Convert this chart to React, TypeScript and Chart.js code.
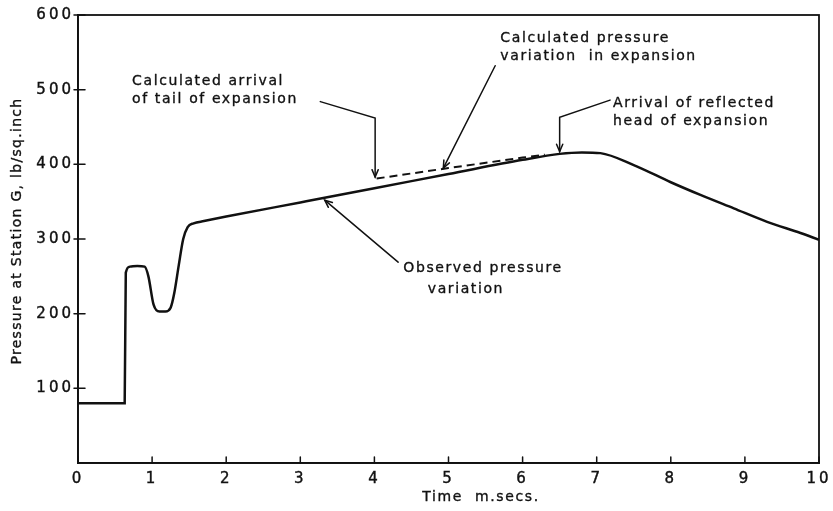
import React, { useEffect, useRef } from "react";
import { Chart, registerables } from "chart.js";
Chart.register(...registerables);

// Observed pressure variation (time in m.secs, pressure lb/sq.inch)
const observedTime = [0, 0.63, 0.645, 0.7, 0.8, 0.9, 0.95, 1.02, 1.1, 1.18, 1.25, 1.3, 1.36, 1.42, 1.48, 1.56, 1.7, 2, 3, 4, 5, 6, 6.5, 6.8, 7.05, 7.5, 8, 8.4, 8.85, 9.3, 9.75, 10];
const observedPressure = [80, 80, 255, 263, 264, 263, 250, 212, 203, 203, 208, 228, 265, 300, 316, 321, 324, 330, 349, 368, 387, 406, 414, 416, 415, 399, 376, 359, 341, 323, 308, 299];

// Calculated pressure variation in expansion
const calculatedTime = [4.03, 5, 6, 6.3];
const calculatedPressure = [381, 395, 409, 413];

const xTickValues = [0, 1, 2, 3, 4, 5, 6, 7, 8, 9, 10];
const yTickValues = [100, 200, 300, 400, 500, 600];

const xTitle = "Time  m.secs.";
const yTitle = "Pressure at Station G, lb/sq.inch";

// Annotations in data coordinates
const notes = [
  {
    lines: ["Calculated arrival", "of tail of expansion"],
    at: [[0.73, 511], [0.73, 487]],
    path: [[3.27, 484], [4.01, 462], [4.01, 383]],
  },
  {
    lines: ["Calculated pressure", "variation  in expansion"],
    at: [[5.7, 569], [5.7, 544]],
    path: [[5.63, 532], [4.93, 395]],
  },
  {
    lines: ["Arrival of reflected", "head of expansion"],
    at: [[7.22, 482], [7.22, 458]],
    path: [[7.18, 486], [6.5, 463], [6.5, 417]],
  },
  {
    lines: ["Observed pressure", "variation"],
    at: [[4.39, 261], [4.72, 233]],
    path: [[4.32, 269], [3.33, 352]],
  },
];

const FONT = '"DejaVu Sans", sans-serif';
const INK = "#111";

const decor = {
  id: "decor",
  beforeDraw(chart: any) {
    chart.ctx.letterSpacing = "3px";
  },
  afterDraw(chart: any) {
    const { ctx, chartArea: a } = chart;
    const x = chart.scales.x;
    const y = chart.scales.y;
    const px = (v: number) => x.getPixelForValue(v);
    const py = (v: number) => y.getPixelForValue(v);
    ctx.save();
    ctx.letterSpacing = "0px";
    ctx.strokeStyle = INK;
    ctx.lineWidth = 1.8;
    ctx.lineCap = "round";
    ctx.strokeRect(a.left, a.top, a.right - a.left, a.bottom - a.top);

    const seg = (x1: number, y1: number, x2: number, y2: number) => {
      ctx.beginPath();
      ctx.moveTo(x1, y1);
      ctx.lineTo(x2, y2);
      ctx.stroke();
    };
    ctx.lineWidth = 1.5;
    xTickValues.forEach((v) => seg(px(v), a.bottom, px(v), a.bottom - 6));
    yTickValues.forEach((v) => seg(a.left - 4, py(v), a.left + 7, py(v)));

    // arrows
    ctx.lineWidth = 1.5;
    notes.forEach((n) => {
      const pts = n.path.map(([dx, dy]) => [px(dx), py(dy)]);
      ctx.beginPath();
      ctx.moveTo(pts[0][0], pts[0][1]);
      for (let i = 1; i < pts.length; i++) ctx.lineTo(pts[i][0], pts[i][1]);
      ctx.stroke();
      const [ax, ay] = pts[pts.length - 1];
      const [bx, by] = pts[pts.length - 2];
      const ang = Math.atan2(ay - by, ax - bx);
      const L = 8;
      const s = 0.4;
      ctx.beginPath();
      ctx.moveTo(ax - L * Math.cos(ang - s), ay - L * Math.sin(ang - s));
      ctx.lineTo(ax, ay);
      ctx.lineTo(ax - L * Math.cos(ang + s), ay - L * Math.sin(ang + s));
      ctx.stroke();
    });

    // annotation text (slightly emboldened like drafting lettering)
    ctx.fillStyle = INK;
    ctx.font = `14px ${FONT}`;
    ctx.letterSpacing = "1.6px";
    ctx.textBaseline = "middle";
    ctx.textAlign = "left";
    ctx.lineWidth = 0.35;
    ctx.lineJoin = "round";
    const write = (t: string, tx: number, ty: number) => {
      ctx.strokeText(t, tx, ty);
      ctx.fillText(t, tx, ty);
    };
    notes.forEach((n) => {
      n.lines.forEach((t, i) => write(t, px(n.at[i][0]), py(n.at[i][1])));
    });

    // axis titles
    ctx.textAlign = "center";
    write(xTitle, 481, 497);
    ctx.save();
    ctx.translate(17, 231);
    ctx.rotate(-Math.PI / 2);
    ctx.letterSpacing = "1.3px";
    write(yTitle, 0, 0);
    ctx.restore();
    ctx.restore();
  },
};

export default function App() {
  const ref = useRef<HTMLCanvasElement>(null);
  useEffect(() => {
    if (!ref.current) return;
    const chart = new Chart(ref.current, {
      type: "scatter",
      data: {
        datasets: [
          {
            data: observedTime.map((t, i) => ({ x: t, y: observedPressure[i] })),
            showLine: true,
            borderColor: INK,
            borderWidth: 2.5,
            pointRadius: 0,
            cubicInterpolationMode: "monotone",
          },
          {
            data: calculatedTime.map((t, i) => ({ x: t, y: calculatedPressure[i] })),
            showLine: true,
            borderColor: INK,
            borderWidth: 2,
            borderDash: [8, 5],
            pointRadius: 0,
          },
        ],
      },
      options: {
        animation: false,
        responsive: true,
        maintainAspectRatio: false,
        layout: { padding: { top: 15, right: 14, left: 0, bottom: 0 } },
        plugins: { legend: { display: false }, tooltip: { enabled: false } },
        scales: {
          x: {
            type: "linear",
            min: 0,
            max: 10,
            ticks: {
              stepSize: 1,
              color: INK,
              font: { family: FONT, size: 15 },
              textStrokeColor: INK,
              textStrokeWidth: 0.4,
              padding: 7,
              maxRotation: 0,
              autoSkip: false,
            },
            grid: { display: false, drawTicks: false },
            border: { display: true, color: INK, width: 1.8 },
            afterFit(s: any) {
              s.height = 48;
              s.paddingLeft = 0;
              s.paddingRight = 0;
            },
          },
          y: {
            type: "linear",
            min: 0,
            max: 600,
            ticks: {
              stepSize: 100,
              color: INK,
              font: { family: FONT, size: 15 },
              textStrokeColor: INK,
              textStrokeWidth: 0.4,
              padding: 4,
              callback: (v: any) => (v === 0 ? "" : String(v)),
            },
            grid: { display: false, drawTicks: false },
            border: { display: true, color: INK, width: 1.8 },
            afterFit(s: any) {
              s.width = 78;
              s.paddingTop = 0;
              s.paddingBottom = 0;
            },
          },
        },
      },
      plugins: [decor],
    } as any);
    return () => chart.destroy();
  }, []);
  return (
    <div style={{ position: "fixed", left: 0, top: 0, width: 833, height: 511, background: "#fff" }}>
      <canvas ref={ref} />
    </div>
  );
}
